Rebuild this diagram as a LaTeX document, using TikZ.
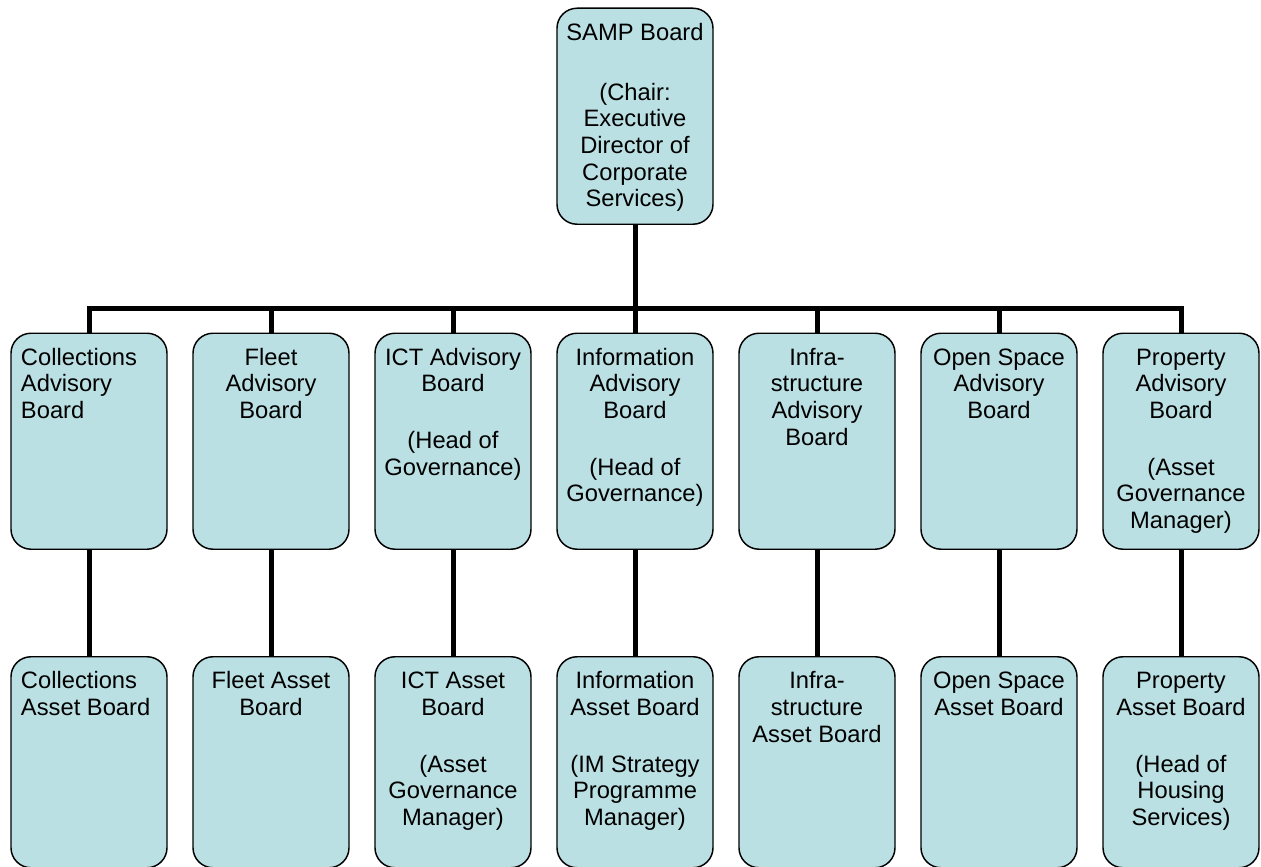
\documentclass[tikz,border=0pt]{standalone}
\usepackage{fontspec}
\setmainfont{Liberation Sans}
\usepackage{xcolor}
\definecolor{boardfill}{HTML}{BBE0E3}
\tikzset{
	board/.style={draw=black, line width=1.1pt, fill=boardfill, rounded corners=15pt,
		inner xsep=2pt, inner ysep=0pt, minimum width=117pt, anchor=north,
		font=\fontsize{17.8pt}{20pt}\selectfont},
	link/.style={line width=3.75pt}
}
% #1 box height, #2 alignment, #3 text
\newcommand{\boardtext}[3]{\parbox[t][#1][t]{113pt}{#2\rule{0pt}{24pt}#3}}
\newcommand{\boardgap}{\\[22.5pt]}
\newcommand{\leftbrd}{\raggedright\leftskip=5.5pt\relax}

\begin{document}
\begin{tikzpicture}[x=0.75pt,y=-0.75pt]
	\useasboundingbox (0,0) rectangle (1261,867);

	% Top board
	\node[board] (samp) at (635,7.5) {\boardtext{162pt}{\centering}{SAMP Board\\[25pt](Chair:\\Executive\\Director of\\Corporate\\Services)}};

	% Advisory boards
	\node[board] (advColl)  at (89,332.5)   {\boardtext{162pt}{\leftbrd}{Collections\\Advisory\\Board}};
	\node[board] (advFleet) at (271,332.5)  {\boardtext{162pt}{\centering}{Fleet\\Advisory\\Board}};
	\node[board] (advICT)   at (453,332.5)  {\boardtext{162pt}{\centering}{ICT Advisory\\Board\boardgap(Head of\\Governance)}};
	\node[board] (advInfo)  at (635,332.5)  {\boardtext{162pt}{\centering}{Information\\Advisory\\Board\boardgap(Head of\\Governance)}};
	\node[board] (advInfra) at (817,332.5)  {\boardtext{162pt}{\centering}{Infra-\\structure\\Advisory\\Board}};
	\node[board] (advOpen)  at (999,332.5)  {\boardtext{162pt}{\centering}{Open Space\\Advisory\\Board}};
	\node[board] (advProp)  at (1181,332.5) {\boardtext{162pt}{\centering}{Property\\Advisory\\Board\boardgap(Asset\\Governance\\Manager)}};

	% Asset boards
	\node[board] (astColl)  at (89,656)   {\boardtext{158.25pt}{\leftbrd}{Collections\\Asset Board}};
	\node[board] (astFleet) at (271,656)  {\boardtext{158.25pt}{\centering}{Fleet Asset\\Board}};
	\node[board] (astICT)   at (453,656)  {\boardtext{158.25pt}{\centering}{ICT Asset\\Board\boardgap(Asset\\Governance\\Manager)}};
	\node[board] (astInfo)  at (635,656)  {\boardtext{158.25pt}{\centering}{Information\\Asset Board\boardgap(IM Strategy\\Programme\\Manager)}};
	\node[board] (astInfra) at (817,656)  {\boardtext{158.25pt}{\centering}{Infra-\\structure\\Asset Board}};
	\node[board] (astOpen)  at (999,656)  {\boardtext{158.25pt}{\centering}{Open Space\\Asset Board}};
	\node[board] (astProp)  at (1181,656) {\boardtext{158.25pt}{\centering}{Property\\Asset Board\boardgap(Head of\\Housing\\Services)}};

	% Connectors
	\coordinate (hub) at (635,308);
	\draw[link] (samp.south) -- (hub);
	\draw[link] (hub) -| (advColl.north);
	\draw[link] (hub) -| (advFleet.north);
	\draw[link] (hub) -| (advICT.north);
	\draw[link] (hub) -- (advInfo.north);
	\draw[link] (hub) -| (advInfra.north);
	\draw[link] (hub) -| (advOpen.north);
	\draw[link] (hub) -| (advProp.north);

	\draw[link] (advColl.south)  -- (astColl.north);
	\draw[link] (advFleet.south) -- (astFleet.north);
	\draw[link] (advICT.south)   -- (astICT.north);
	\draw[link] (advInfo.south)  -- (astInfo.north);
	\draw[link] (advInfra.south) -- (astInfra.north);
	\draw[link] (advOpen.south)  -- (astOpen.north);
	\draw[link] (advProp.south)  -- (astProp.north);

\end{tikzpicture}
\end{document}
